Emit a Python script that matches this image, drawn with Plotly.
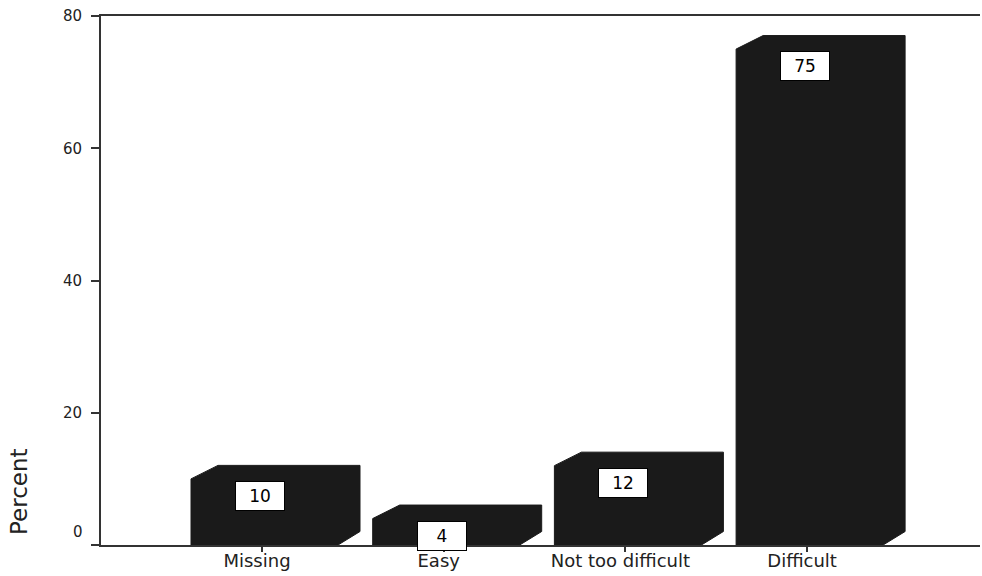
import plotly.graph_objects as go

# Survey answers (percent of respondents)
categories = ["Missing", "Easy", "Not too difficult", "Difficult"]
percent = [10, 4, 12, 75]
value_labels = ["10", "4", "12", "75"]
y_tickvals = [0, 20, 40, 60, 80]
y_ticktext = ["", "20", "40", "60", "80"]

# Page / plot geometry in pixels
W, H = 982, 576
ml, mr, mt, mb = 101, 2, 16, 31
plot_w = W - ml - mr
plot_h = H - mt - mb
step_px = 181.7          # distance between category centres
first_px = 262           # centre of the first category
x_lo = (ml - first_px) / step_px
x_hi = (W - mr - first_px) / step_px
y_max = 80
ux = (x_hi - x_lo) / plot_w   # data units per pixel, x
uy = y_max / plot_h           # data units per pixel, y

# Pseudo-3D box proportions (pixels converted to data units)
front_left = 71 * ux
front_right = 76 * ux
slant_top = 27 * ux
slant_side = 22 * ux
depth = 13.5 * uy

INK = "#1a1a1a"
FONT = "DejaVu Sans"

fig = go.Figure()

for i, v in enumerate(percent):
    x0 = i - front_left
    x1 = i + front_right
    xs = [x0, x0, x0 + slant_top, x1 + slant_side, x1 + slant_side, x1, x0]
    ys = [0, v, v + depth, v + depth, depth, 0, 0]
    fig.add_trace(go.Scatter(
        x=xs, y=ys, mode="lines", fill="toself",
        fillcolor=INK, line=dict(color=INK, width=1),
        hoverinfo="skip", showlegend=False,
    ))

annotations = []
for i, (v, lab) in enumerate(zip(percent, value_labels)):
    annotations.append(dict(
        x=i - 2 * ux, y=v, xref="x", yref="y",
        text=lab, showarrow=False,
        xanchor="center", yanchor="top", yshift=-2,
        width=48, height=28, borderpad=0,
        bgcolor="white", bordercolor="black", borderwidth=1,
        font=dict(family=FONT, size=17, color="black"),
    ))

# "0" sits a little above its tick
annotations.append(dict(
    x=0, y=0, xref="paper", yref="y", text="0", showarrow=False,
    xanchor="right", yanchor="middle", xshift=-16, yshift=13,
    font=dict(family=FONT, size=15, color="#222"),
))

# Axis title, drawn low on the left
annotations.append(dict(
    x=(19 - ml) / plot_w, y=(H - mb - 492) / plot_h,
    xref="paper", yref="paper", text="Percent", showarrow=False,
    textangle=-90, xanchor="center", yanchor="middle",
    font=dict(family=FONT, size=23, color="#222"),
))

fig.update_layout(
    width=W, height=H,
    margin=dict(l=ml, r=mr, t=mt, b=mb, pad=0, autoexpand=False),
    paper_bgcolor="white", plot_bgcolor="white",
    showlegend=False,
    annotations=annotations,
)

fig.update_xaxes(
    range=[x_lo, x_hi], automargin=False,
    tickvals=list(range(len(categories))), ticktext=categories,
    ticks="outside", ticklen=5, tickwidth=2, tickcolor="#333",
    ticklabelshift=-5, ticklabelstandoff=-7,
    showline=True, linewidth=2, linecolor="#333", mirror=True,
    showgrid=False, zeroline=False,
    tickfont=dict(family=FONT, size=18, color="#222"),
)

fig.update_yaxes(
    range=[0, y_max], automargin=False,
    tickvals=y_tickvals, ticktext=y_ticktext,
    ticks="outside", ticklen=8, tickwidth=2, tickcolor="#333",
    ticklabelstandoff=6,
    showline=True, linewidth=2, linecolor="#333", mirror=False,
    showgrid=False, zeroline=False,
    tickfont=dict(family=FONT, size=15, color="#222"),
)

fig.write_html("out.html")
